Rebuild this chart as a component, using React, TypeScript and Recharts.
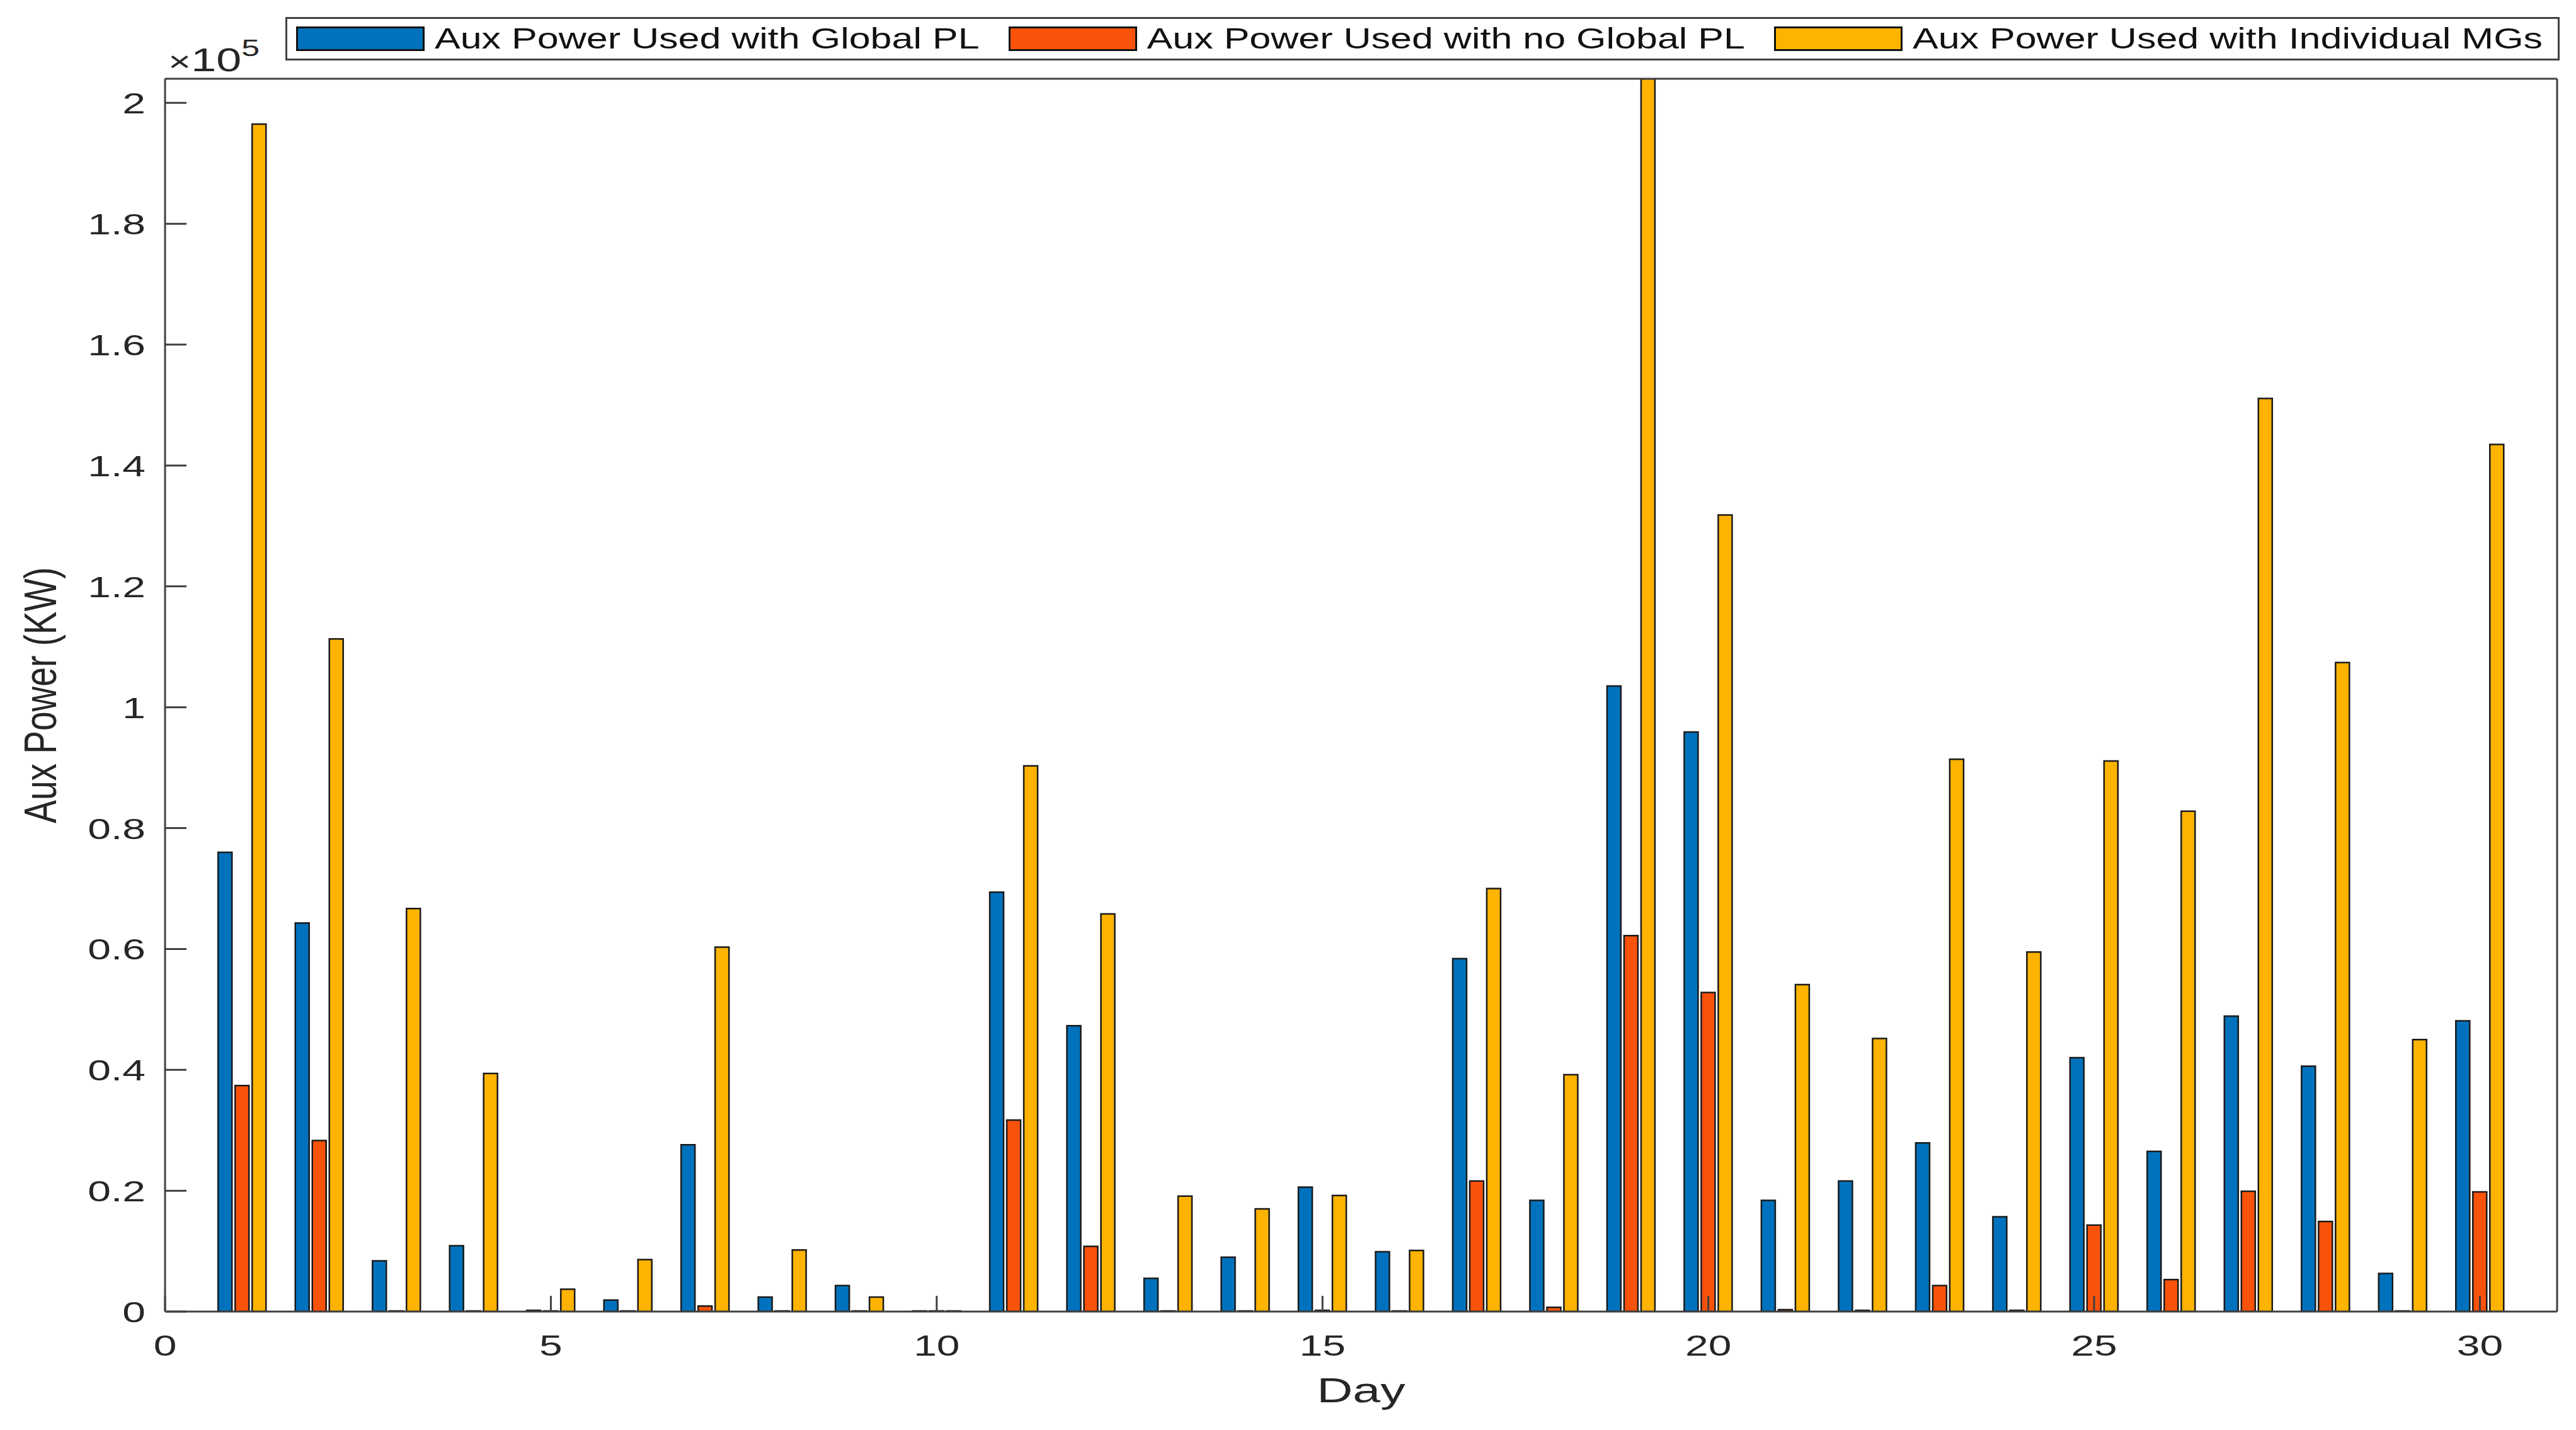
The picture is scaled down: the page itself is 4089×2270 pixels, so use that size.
import { BarChart, Bar, XAxis, YAxis, Legend } from 'recharts';

// Day index and aux power (KW) per scheme
const days = [1, 2, 3, 4, 5, 6, 7, 8, 9, 10, 11, 12, 13, 14, 15, 16, 17, 18, 19, 20, 21, 22, 23, 24, 25, 26, 27, 28, 29, 30];
const globalPL = [76000, 64300, 8400, 10900, 200, 1900, 27600, 2400, 4300, 0, 69400, 47300, 5500, 9000, 20600, 9900, 58400, 18400, 103500, 95900, 18400, 21600, 27900, 15700, 42000, 26500, 48900, 40600, 6300, 48100];
const noGlobalPL = [37400, 28300, 0, 0, 0, 0, 900, 0, 0, 0, 31700, 10800, 0, 0, 200, 0, 21600, 700, 62200, 52800, 300, 200, 4300, 200, 14300, 5300, 19900, 14900, 0, 19800];
const individualMGs = [196500, 111300, 66700, 39400, 3700, 8600, 60300, 10200, 2400, 0, 90300, 65800, 19100, 17000, 19200, 10100, 70000, 39200, 204000, 131800, 54100, 45200, 91400, 59500, 91100, 82800, 151100, 107400, 45000, 143500];

const seriesKeys = ['global', 'noGlobal', 'individual'];
const seriesNames = [
  'Aux Power Used with Global PL',
  'Aux Power Used with no Global PL',
  'Aux Power Used with Individual MGs',
];
const seriesColors = ['#0072BD', '#F9520A', '#FDB300'];

const xTicks = [0, 5, 10, 15, 20, 25, 30];
const yTicks = [0, 20000, 40000, 60000, 80000, 100000, 120000, 140000, 160000, 180000, 200000];

const FONT = '"Liberation Sans", Arial, Helvetica, sans-serif';
const AXIS = '#404040';
const TEXT = '#262626';

const data = days.map((d, i) => ({
  day: d,
  global: globalPL[i],
  noGlobal: noGlobalPL[i],
  individual: individualMGs[i],
}));

function XTick(props: any) {
  const { x, y, payload } = props;
  return (
    <text
      transform={`translate(${x},${y + 70}) scale(1,0.71)`}
      textAnchor="middle"
      fontSize={66}
      fontFamily={FONT}
      fill={TEXT}
    >
      {payload.value}
    </text>
  );
}

function YTick(props: any) {
  const { x, y, payload } = props;
  const label = String(+(payload.value / 100000).toFixed(1));
  return (
    <text
      transform={`translate(${x - 31},${y + 17}) scale(1,0.71)`}
      textAnchor="end"
      fontSize={66}
      fontFamily={FONT}
      fill={TEXT}
    >
      {label}
    </text>
  );
}

function renderLegend() {
  return (
    <div
      style={{
        display: 'flex',
        alignItems: 'center',
        height: 69,
        boxSizing: 'border-box',
        border: `3px solid ${AXIS}`,
        background: '#fff',
        paddingLeft: 14,
        paddingRight: 24,
        fontFamily: FONT,
      }}
    >
      {seriesNames.map((name, i) => (
        <div
          key={name}
          style={{ display: 'flex', alignItems: 'center', marginRight: i < seriesNames.length - 1 ? 46 : 0 }}
        >
          <div
            style={{
              width: 204,
              height: 39,
              boxSizing: 'border-box',
              border: '3px solid #111',
              background: seriesColors[i],
              marginRight: 16,
            }}
          />
          <span
            style={{
              display: 'inline-block',
              fontSize: 61,
              lineHeight: '61px',
              transform: 'scaleY(0.754)',
              color: '#111',
              whiteSpace: 'nowrap',
            }}
          >
            {name}
          </span>
        </div>
      ))}
    </div>
  );
}

const axisLine = { stroke: AXIS, strokeWidth: 3 };

export default function App() {
  return (
    <div style={{ position: 'absolute', left: 0, top: 0, width: 4089, height: 2270, background: '#fff' }}>
      <BarChart
        width={4089}
        height={2270}
        data={data}
        margin={{ top: 124, right: 29, bottom: 187, left: 261 }}
        barSize={22}
        barGap={5}
        style={{ fontFamily: FONT }}
      >
        <XAxis
          dataKey="day"
          type="number"
          domain={[0, 31]}
          ticks={xTicks}
          interval={0}
          allowDataOverflow
          height={1}
          tickSize={-25}
          tickMargin={25}
          tick={<XTick />}
          axisLine={axisLine}
          tickLine={axisLine}
          label={{
            content: (p: any) => {
              const vb = p.viewBox;
              return (
                <text
                  transform={`translate(${vb.x + vb.width / 2},${vb.y + 144}) scale(1,0.71)`}
                  textAnchor="middle"
                  fontSize={79}
                  fontFamily={FONT}
                  fill={TEXT}
                >
                  Day
                </text>
              );
            },
          }}
        />
        <XAxis
          xAxisId="top"
          orientation="top"
          type="number"
          domain={[0, 31]}
          ticks={xTicks}
          interval={0}
          allowDataOverflow
          height={1}
          tick={false}
          tickSize={-25}
          axisLine={axisLine}
          tickLine={axisLine}
          label={{
            content: (p: any) => {
              const vb = p.viewBox;
              return (
                <text
                  transform={`translate(${vb.x + 5},${vb.y - 11}) scale(1,0.71)`}
                  fontSize={72}
                  fontFamily={FONT}
                  fill={TEXT}
                >
                  <tspan fontSize={62}>×</tspan>
                  <tspan>10</tspan>
                  <tspan fontSize={52} dy={-34}>5</tspan>
                </text>
              );
            },
          }}
        />
        <YAxis
          type="number"
          domain={[0, 204000]}
          ticks={yTicks}
          interval={0}
          allowDataOverflow
          width={1}
          tickSize={-34}
          tickMargin={34}
          tick={<YTick />}
          axisLine={axisLine}
          tickLine={axisLine}
          label={{
            content: (p: any) => {
              const vb = p.viewBox;
              return (
                <text
                  transform={`translate(${vb.x - 172},${vb.y + vb.height / 2}) scale(1.3,1) rotate(-90)`}
                  textAnchor="middle"
                  fontSize={55}
                  fontFamily={FONT}
                  fill={TEXT}
                >
                  Aux Power (KW)
                </text>
              );
            },
          }}
        />
        <YAxis
          yAxisId="right"
          orientation="right"
          type="number"
          domain={[0, 204000]}
          ticks={yTicks}
          interval={0}
          allowDataOverflow
          width={1}
          tick={false}
          tickSize={-34}
          axisLine={axisLine}
          tickLine={axisLine}
        />
        <Legend
          content={renderLegend}
          layout="horizontal"
          verticalAlign="middle"
          align="center"
          wrapperStyle={{ left: 453, top: 27, width: 'auto', height: 'auto' }}
        />
        {seriesKeys.map((k, i) => (
          <Bar
            key={k}
            dataKey={k}
            name={seriesNames[i]}
            fill={seriesColors[i]}
            stroke="#1a1a1a"
            strokeWidth={2.5}
            minPointSize={1}
            isAnimationActive={false}
          />
        ))}
      </BarChart>
    </div>
  );
}
